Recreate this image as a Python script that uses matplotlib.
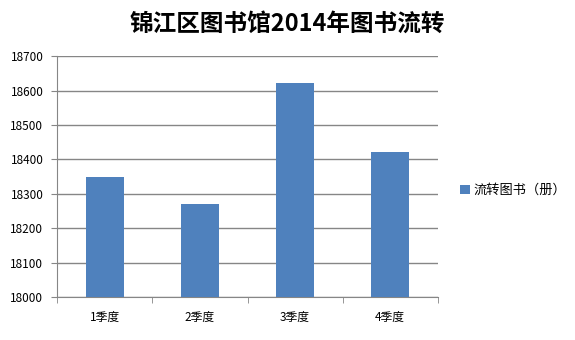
import matplotlib.pyplot as plt
import numpy as np

plt.rcParams['font.family'] = ['Noto Sans CJK SC', 'DejaVu Sans']

# data
quarters = ['1季度', '2季度', '3季度', '4季度']
books = [18350, 18270, 18622, 18422]
yticks = [18000, 18100, 18200, 18300, 18400, 18500, 18600, 18700]

BAR_COLOR = '#4F81BD'
GRID_COLOR = '#868686'

fig = plt.figure(figsize=(5.75, 3.4), dpi=100)
ax = fig.add_axes([0.0996, 0.1256, 0.6617, 0.7094])

x = np.arange(len(quarters))
ax.bar(x, [b - yticks[0] for b in books], width=0.4, bottom=yticks[0],
       color=BAR_COLOR, label='流转图书（册）', zorder=3)

ax.set_xlim(-0.5, len(quarters) - 0.5)
ax.set_ylim(yticks[0], yticks[-1])
ax.set_yticks(yticks)
ax.set_yticklabels([str(t) for t in yticks], fontsize=8.5)
ax.grid(True, axis='y', color=GRID_COLOR, linewidth=1, zorder=0)

# category labels centered, tick marks between categories
ax.set_xticks(x)
ax.set_xticklabels(quarters, fontsize=8.5)
ax.tick_params(axis='x', length=0, pad=10)
ax.set_xticks(np.arange(-0.5, len(quarters)), minor=True)
ax.tick_params(axis='x', which='minor', length=4, color=GRID_COLOR, direction='out')
ax.tick_params(axis='y', length=4, color=GRID_COLOR, direction='out', pad=6)

for side in ['top', 'right']:
    ax.spines[side].set_visible(False)
for side in ['left', 'bottom']:
    ax.spines[side].set_color(GRID_COLOR)

fig.suptitle('锦江区图书馆2014年图书流转', fontsize=17, fontweight='bold',
             x=0.5, y=0.965)

fig.legend(loc='center left', bbox_to_anchor=(0.78, 0.44), frameon=False,
           fontsize=9.5, handlelength=0.7, handleheight=0.7, handletextpad=0.3)

fig.savefig('out.png', dpi=100)
